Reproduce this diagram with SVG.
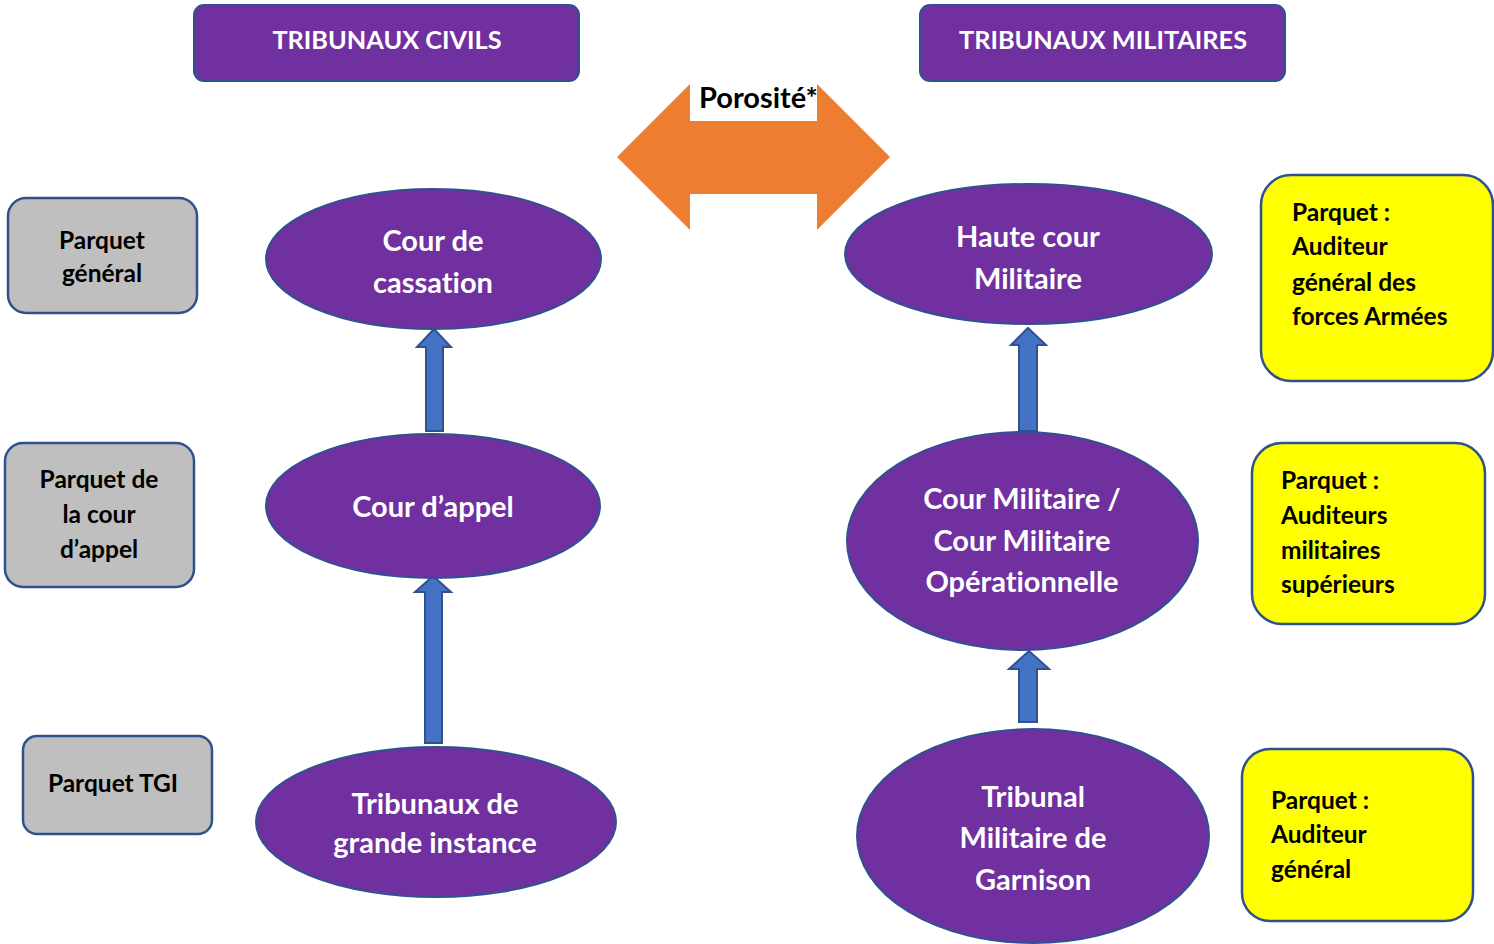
<svg xmlns="http://www.w3.org/2000/svg" width="1494" height="944" viewBox="0 0 1494 944">
<style>
text{font-family:Lato,"Open Sans","Liberation Sans",sans-serif;font-weight:bold;font-variant-ligatures:none}
.hdr{fill:#7030A0;stroke:#2F528F;stroke-width:2}
.ell{fill:#7030A0;stroke:#2F528F;stroke-width:2}
.gray{fill:#BFBFBF;stroke:#2F528F;stroke-width:2.5}
.yel{fill:#FFFF00;stroke:#2F528F;stroke-width:2.5}
.wt{fill:#FFFFFF;text-anchor:middle}
.ht{fill:#FFFFFF;text-anchor:middle;font-size:25.3px}
.et{font-size:29px}
.gt{fill:#000;text-anchor:middle;font-size:24.5px}
.yt{fill:#000;font-size:24.5px}
.blue{fill:#4472C4;stroke:#2F528F;stroke-width:2;stroke-linejoin:miter}
</style>
<rect width="1494" height="944" fill="#FFFFFF"/>
<g id="hdr-civils">
<rect class="hdr" x="194" y="5" width="385" height="76" rx="10"/>
<text class="ht" x="387" y="49">TRIBUNAUX CIVILS</text>
</g>
<g id="hdr-militaires">
<rect class="hdr" x="920" y="5" width="365" height="76" rx="10"/>
<text class="ht" x="1103" y="49">TRIBUNAUX MILITAIRES</text>
</g>
<g id="porosite">
<polygon fill="#ED7D31" points="617,157 690,84 690,121 817,121 817,84 890,157 817,230 817,194 690,194 690,230"/>
<rect x="690" y="84" width="127" height="37" fill="#FFFFFF"/>
<text x="699" y="108" font-size="29" fill="#000">Porosité*</text>
</g>
<g id="connectors">
<polygon class="blue" points="434,329 451,347 443,347 443,431 426,431 426,347 417,347"/>
<polygon class="blue" points="433,576 451,592 442,592 442,743 425,743 425,592 415,592"/>
<polygon class="blue" points="1028,328 1046,345 1037,345 1037,431 1019,431 1019,345 1011,345"/>
<polygon class="blue" points="1029,651 1049,669 1037,669 1037,722 1019,722 1019,669 1009,669"/>
</g>
<g id="cour-cassation">
<ellipse class="ell" cx="433.5" cy="259" rx="167.5" ry="70"/>
<text class="wt et" x="433" y="251">Cour de</text>
<text class="wt et" x="433" y="293">cassation</text>
</g>
<g id="cour-appel">
<ellipse class="ell" cx="433" cy="506" rx="167" ry="72"/>
<text class="wt et" x="433" y="517">Cour d’appel</text>
</g>
<g id="tgi">
<ellipse class="ell" cx="436" cy="822" rx="180" ry="75"/>
<text class="wt et" x="435" y="814">Tribunaux de</text>
<text class="wt et" x="435" y="853">grande instance</text>
</g>
<g id="haute-cour">
<ellipse class="ell" cx="1028.5" cy="254" rx="183.5" ry="70"/>
<text class="wt et" x="1028" y="247">Haute cour</text>
<text class="wt et" x="1028" y="289">Militaire</text>
</g>
<g id="cour-militaire">
<ellipse class="ell" cx="1022.5" cy="541" rx="175.5" ry="109"/>
<text class="wt et" x="1022" y="509">Cour Militaire /</text>
<text class="wt et" x="1022" y="551">Cour Militaire</text>
<text class="wt et" x="1022" y="592">Opérationnelle</text>
</g>
<g id="tribunal-garnison">
<ellipse class="ell" cx="1033" cy="836" rx="176" ry="107"/>
<text class="wt et" x="1033" y="807">Tribunal</text>
<text class="wt et" x="1033" y="848">Militaire de</text>
<text class="wt et" x="1033" y="890">Garnison</text>
</g>
<g id="parquet-general">
<rect class="gray" x="8" y="198" width="189" height="115" rx="18"/>
<text class="gt" x="102" y="249">Parquet</text>
<text class="gt" x="102" y="282">général</text>
</g>
<g id="parquet-cour-appel">
<rect class="gray" x="5" y="443" width="189" height="144" rx="18"/>
<text class="gt" x="99" y="488">Parquet de</text>
<text class="gt" x="99" y="523">la cour</text>
<text class="gt" x="99" y="558">d’appel</text>
</g>
<g id="parquet-tgi">
<rect class="gray" x="23" y="736" width="189" height="98" rx="14"/>
<text class="gt" x="113" y="792">Parquet TGI</text>
</g>
<g id="parquet-auditeur-general-forces">
<rect class="yel" x="1261" y="175" width="232" height="206" rx="30"/>
<text class="yt" x="1292" y="221">Parquet :</text>
<text class="yt" x="1292" y="255">Auditeur</text>
<text class="yt" x="1292" y="291">général des</text>
<text class="yt" x="1292" y="325">forces Armées</text>
</g>
<g id="parquet-auditeurs-superieurs">
<rect class="yel" x="1252" y="443" width="233" height="181" rx="30"/>
<text class="yt" x="1281" y="489">Parquet :</text>
<text class="yt" x="1281" y="524">Auditeurs</text>
<text class="yt" x="1281" y="559">militaires</text>
<text class="yt" x="1281" y="593">supérieurs</text>
</g>
<g id="parquet-auditeur-general">
<rect class="yel" x="1242" y="749" width="231" height="172" rx="28"/>
<text class="yt" x="1271" y="809">Parquet :</text>
<text class="yt" x="1271" y="843">Auditeur</text>
<text class="yt" x="1271" y="878">général</text>
</g>
</svg>
